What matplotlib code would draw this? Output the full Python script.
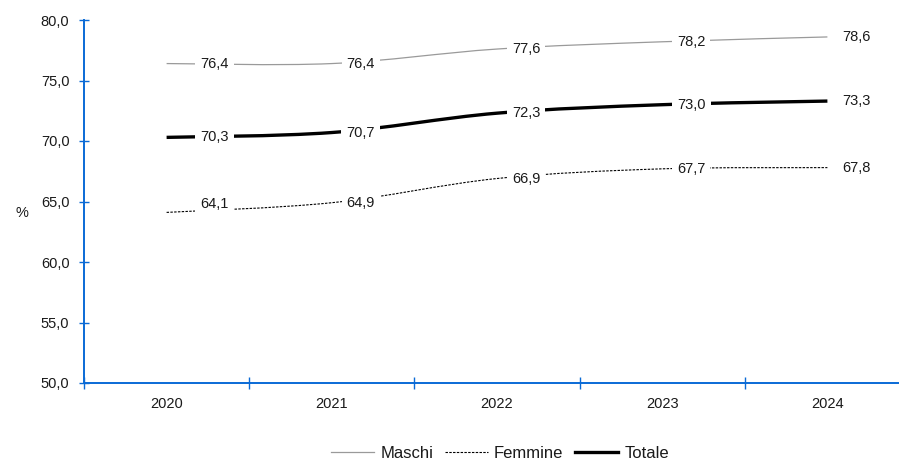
import matplotlib
matplotlib.use('Agg')
import matplotlib.pyplot as plt
from matplotlib.path import Path
from matplotlib.patches import PathPatch
from matplotlib.lines import Line2D

plt.rcParams['font.family'] = ['Liberation Sans', 'DejaVu Sans']

years = ['2020', '2021', '2022', '2023', '2024']
maschi = [76.4, 76.4, 77.6, 78.2, 78.6]
femmine = [64.1, 64.9, 66.9, 67.7, 67.8]
totale = [70.3, 70.7, 72.3, 73.0, 73.3]

AXIS_BLUE = '#0a6ad6'


def smooth_path(xs, ys):
    # Excel-like smoothed line: Catmull-Rom segments as cubic Bezier curves
    pts = list(zip(xs, ys))
    n = len(pts)
    verts = [pts[0]]
    codes = [Path.MOVETO]
    for i in range(n - 1):
        p0 = pts[max(i - 1, 0)]
        p1 = pts[i]
        p2 = pts[i + 1]
        p3 = pts[min(i + 2, n - 1)]
        c1 = (p1[0] + (p2[0] - p0[0]) / 6, p1[1] + (p2[1] - p0[1]) / 6)
        c2 = (p2[0] - (p3[0] - p1[0]) / 6, p2[1] - (p3[1] - p1[1]) / 6)
        verts += [c1, c2, p2]
        codes += [Path.CURVE4] * 3
    return Path(verts, codes)


fig = plt.figure(figsize=(8.99, 4.62), dpi=100)
ax = fig.add_axes([84 / 899, 1 - 383 / 462, 826 / 899, 363 / 462])

xs = list(range(len(years)))
styles = [
    ('Maschi', maschi, dict(color='#9a9a9a', lw=0.9, ls='-')),
    ('Femmine', femmine, dict(color='black', lw=0.8, ls=(0, (2.2, 1.2)))),
    ('Totale', totale, dict(color='black', lw=2.4, ls='-')),
]

handles = []
for name, vals, st in styles:
    patch = PathPatch(smooth_path(xs, vals), fill=False, edgecolor=st['color'],
                      lw=st['lw'], ls=st['ls'], capstyle='butt', zorder=2)
    ax.add_patch(patch)
    handles.append(Line2D([], [], color=st['color'], lw=st['lw'], ls=st['ls'],
                          label=name))
    for i, v in enumerate(vals):
        dx = 48 if i == 0 else 29
        dy = 8 if (name == 'Femmine' and i == 0) else 0
        ax.annotate(f'{v:.1f}'.replace('.', ','), (i, v), xytext=(dx, dy),
                    textcoords='offset pixels', ha='center', va='center',
                    fontsize=10.5, color='#1a1a1a', zorder=3,
                    bbox=dict(boxstyle='square,pad=0.35', fc='white', ec='none'))

ax.set_xlim(-0.5, 4.5)
ax.set_ylim(50, 80)
ax.set_yticks([50, 55, 60, 65, 70, 75, 80])
ax.set_yticklabels([f'{t:.1f}'.replace('.', ',') for t in [50, 55, 60, 65, 70, 75, 80]])
ax.set_xticks(xs)
ax.set_xticklabels(years)
ax.set_xticks([-0.5, 0.5, 1.5, 2.5, 3.5, 4.5], minor=True)

for s in ['top', 'right']:
    ax.spines[s].set_visible(False)
for s in ['left', 'bottom']:
    ax.spines[s].set_color(AXIS_BLUE)
    ax.spines[s].set_linewidth(1.4)

ax.tick_params(axis='y', direction='inout', length=7, width=1, color=AXIS_BLUE,
               labelsize=10.5, labelcolor='#1a1a1a', pad=7)
ax.tick_params(axis='x', which='major', length=0, labelsize=10.5,
               labelcolor='#1a1a1a', pad=10)
ax.tick_params(axis='x', which='minor', direction='inout', length=8, width=1,
               color=AXIS_BLUE)

fig.text(16 / 899, 1 - 213 / 462, '%', fontsize=10.5, color='#1a1a1a',
         ha='left', va='center')

fig.legend(handles=handles, loc='center', bbox_to_anchor=(500 / 899, 1 - 453 / 462),
           ncol=3, frameon=False, fontsize=12, handlelength=2.6,
           handletextpad=0.35, columnspacing=0.7, labelcolor='#1a1a1a')

fig.savefig('out.png', dpi=100)
